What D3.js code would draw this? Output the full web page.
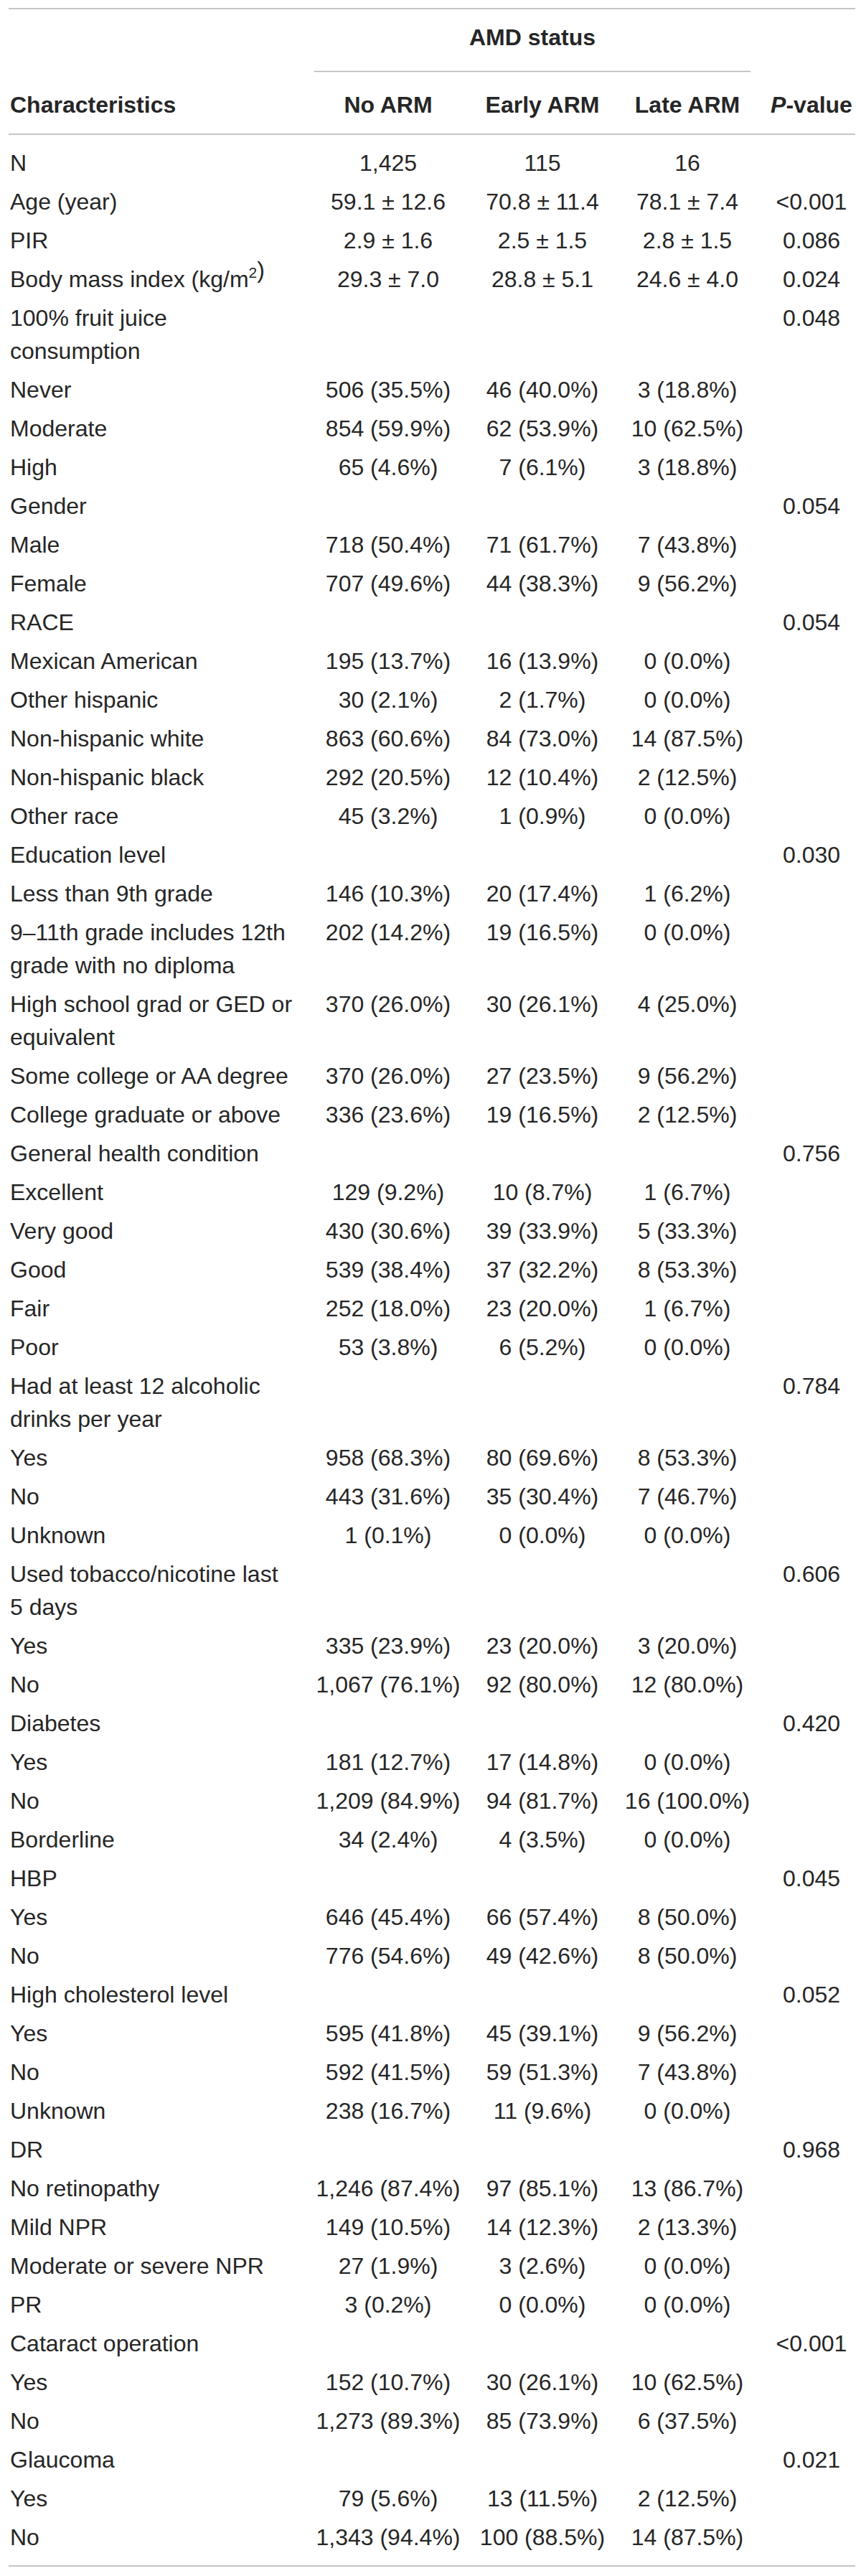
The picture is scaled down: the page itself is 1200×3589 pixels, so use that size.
<!DOCTYPE html>
<html>
<head>
<meta charset="utf-8">
<script src="https://cdn.jsdelivr.net/npm/d3@7/dist/d3.min.js"></script>
<style>
  html, body { margin: 0; padding: 0; background: #ffffff; }
  svg { display: block; }
  text { font-family: "Liberation Sans", Arial, Helvetica, sans-serif; }
</style>
</head>
<body>
<div id="chart"></div>
<script>
// ---------- DATA ----------
const groupTitle = "AMD status";
const headerLabels = ["Characteristics", "No ARM", "Early ARM", "Late ARM", "P-value"];

const labels = [
  "N", "Age (year)", "PIR", "Body mass index (kg/m²)",
  "100% fruit juice\nconsumption", "Never", "Moderate", "High",
  "Gender", "Male", "Female",
  "RACE", "Mexican American", "Other hispanic", "Non-hispanic white", "Non-hispanic black", "Other race",
  "Education level", "Less than 9th grade", "9–11th grade includes 12th\ngrade with no diploma",
  "High school grad or GED or\nequivalent", "Some college or AA degree", "College graduate or above",
  "General health condition", "Excellent", "Very good", "Good", "Fair", "Poor",
  "Had at least 12 alcoholic\ndrinks per year", "Yes", "No", "Unknown",
  "Used tobacco/nicotine last\n5 days", "Yes", "No",
  "Diabetes", "Yes", "No", "Borderline",
  "HBP", "Yes", "No",
  "High cholesterol level", "Yes", "No", "Unknown",
  "DR", "No retinopathy", "Mild NPR", "Moderate or severe NPR", "PR",
  "Cataract operation", "Yes", "No",
  "Glaucoma", "Yes", "No"
];

const noArm = [
  "1,425", "59.1 ± 12.6", "2.9 ± 1.6", "29.3 ± 7.0",
  "", "506 (35.5%)", "854 (59.9%)", "65 (4.6%)",
  "", "718 (50.4%)", "707 (49.6%)",
  "", "195 (13.7%)", "30 (2.1%)", "863 (60.6%)", "292 (20.5%)", "45 (3.2%)",
  "", "146 (10.3%)", "202 (14.2%)", "370 (26.0%)", "370 (26.0%)", "336 (23.6%)",
  "", "129 (9.2%)", "430 (30.6%)", "539 (38.4%)", "252 (18.0%)", "53 (3.8%)",
  "", "958 (68.3%)", "443 (31.6%)", "1 (0.1%)",
  "", "335 (23.9%)", "1,067 (76.1%)",
  "", "181 (12.7%)", "1,209 (84.9%)", "34 (2.4%)",
  "", "646 (45.4%)", "776 (54.6%)",
  "", "595 (41.8%)", "592 (41.5%)", "238 (16.7%)",
  "", "1,246 (87.4%)", "149 (10.5%)", "27 (1.9%)", "3 (0.2%)",
  "", "152 (10.7%)", "1,273 (89.3%)",
  "", "79 (5.6%)", "1,343 (94.4%)"
];

const earlyArm = [
  "115", "70.8 ± 11.4", "2.5 ± 1.5", "28.8 ± 5.1",
  "", "46 (40.0%)", "62 (53.9%)", "7 (6.1%)",
  "", "71 (61.7%)", "44 (38.3%)",
  "", "16 (13.9%)", "2 (1.7%)", "84 (73.0%)", "12 (10.4%)", "1 (0.9%)",
  "", "20 (17.4%)", "19 (16.5%)", "30 (26.1%)", "27 (23.5%)", "19 (16.5%)",
  "", "10 (8.7%)", "39 (33.9%)", "37 (32.2%)", "23 (20.0%)", "6 (5.2%)",
  "", "80 (69.6%)", "35 (30.4%)", "0 (0.0%)",
  "", "23 (20.0%)", "92 (80.0%)",
  "", "17 (14.8%)", "94 (81.7%)", "4 (3.5%)",
  "", "66 (57.4%)", "49 (42.6%)",
  "", "45 (39.1%)", "59 (51.3%)", "11 (9.6%)",
  "", "97 (85.1%)", "14 (12.3%)", "3 (2.6%)", "0 (0.0%)",
  "", "30 (26.1%)", "85 (73.9%)",
  "", "13 (11.5%)", "100 (88.5%)"
];

const lateArm = [
  "16", "78.1 ± 7.4", "2.8 ± 1.5", "24.6 ± 4.0",
  "", "3 (18.8%)", "10 (62.5%)", "3 (18.8%)",
  "", "7 (43.8%)", "9 (56.2%)",
  "", "0 (0.0%)", "0 (0.0%)", "14 (87.5%)", "2 (12.5%)", "0 (0.0%)",
  "", "1 (6.2%)", "0 (0.0%)", "4 (25.0%)", "9 (56.2%)", "2 (12.5%)",
  "", "1 (6.7%)", "5 (33.3%)", "8 (53.3%)", "1 (6.7%)", "0 (0.0%)",
  "", "8 (53.3%)", "7 (46.7%)", "0 (0.0%)",
  "", "3 (20.0%)", "12 (80.0%)",
  "", "0 (0.0%)", "16 (100.0%)", "0 (0.0%)",
  "", "8 (50.0%)", "8 (50.0%)",
  "", "9 (56.2%)", "7 (43.8%)", "0 (0.0%)",
  "", "13 (86.7%)", "2 (13.3%)", "0 (0.0%)", "0 (0.0%)",
  "", "10 (62.5%)", "6 (37.5%)",
  "", "2 (12.5%)", "14 (87.5%)"
];

const pValues = [
  "", "<0.001", "0.086", "0.024",
  "0.048", "", "", "",
  "0.054", "", "",
  "0.054", "", "", "", "", "",
  "0.030", "", "", "", "", "",
  "0.756", "", "", "", "", "",
  "0.784", "", "", "",
  "0.606", "", "",
  "0.420", "", "", "",
  "0.045", "", "",
  "0.052", "", "", "",
  "0.968", "", "", "", "",
  "<0.001", "", "",
  "0.021", "", ""
];

// ---------- LAYOUT ----------
const W = 1200, H = 3589;
const FONT = 32;
const ROW = 54;      // pitch of a single-line row
const LINE = 46;     // extra height of each wrapped line
const TEXT = "#262626";
const RULE = "#b3b3b3";

const svg = d3.select("#chart").append("svg")
  .attr("width", W).attr("height", H)
  .attr("viewBox", `0 0 ${W} ${H}`);

// column scale (ordinal -> center x)
const colKeys = ["label", "no", "early", "late", "p"];
const x = d3.scaleOrdinal().domain(colKeys).range([14, 541, 756, 958, 1131]);

// row layout: cumulative offset of each row
const lineCounts = labels.map(l => l.split("\n").length);
const heights = lineCounts.map(n => ROW + (n - 1) * LINE);
const offsets = [0, ...d3.cumsum(heights)].slice(0, labels.length);
const totalH = d3.sum(heights);
const y = d3.scaleLinear().domain([0, totalH]).range([238, 238 + totalH]);

const rows = labels.map((l, i) => ({
  label: l, no: noArm[i], early: earlyArm[i], late: lateArm[i], p: pValues[i], off: offsets[i]
}));

// rules
const rules = [
  { x1: 12, x2: 1192, y: 12 },
  { x1: 438, x2: 1046, y: 99.5 },
  { x1: 12, x2: 1192, y: 187 },
  { x1: 12, x2: 1192, y: 3575 }
];
svg.selectAll("line.rule").data(rules).join("line")
  .attr("class", "rule")
  .attr("x1", d => d.x1).attr("x2", d => d.x2)
  .attr("y1", d => d.y).attr("y2", d => d.y)
  .attr("stroke", RULE).attr("stroke-width", 1.6);

// group title
svg.append("text")
  .attr("x", 742).attr("y", 63)
  .attr("text-anchor", "middle")
  .attr("font-size", FONT).attr("font-weight", "bold").attr("fill", TEXT)
  .text(groupTitle);

// column headers
const hdr = svg.selectAll("text.hdr").data(colKeys).join("text")
  .attr("class", "hdr")
  .attr("x", d => x(d)).attr("y", 157)
  .attr("text-anchor", d => d === "label" ? "start" : "middle")
  .attr("font-size", FONT).attr("font-weight", "bold").attr("fill", TEXT);
hdr.each(function(d, i) {
  const t = d3.select(this);
  const s = headerLabels[i];
  if (d === "p") {
    t.append("tspan").attr("font-style", "italic").text("P");
    t.append("tspan").text(s.slice(1));
  } else {
    t.text(s);
  }
});

// body rows
const g = svg.selectAll("g.row").data(rows).join("g")
  .attr("class", "row")
  .attr("transform", d => `translate(0,${y(d.off)})`);

g.append("text")
  .attr("x", x("label")).attr("y", 0)
  .attr("font-size", FONT).attr("fill", TEXT)
  .each(function(d) {
    const t = d3.select(this);
    d.label.split("\n").forEach((ln, k) => {
      const parts = ln.split("²");
      parts.forEach((p, j) => {
        const ts = t.append("tspan").text(p);
        if (j === 0) ts.attr("x", x("label")).attr("y", k * LINE);
        if (j < parts.length - 1) {
          t.append("tspan").attr("font-size", 21).attr("dy", -13).text("2");
          // restore baseline for the remainder
          parts[j + 1] !== undefined && t.append("tspan").attr("dy", 13).text("");
        }
      });
    });
  });

["no", "early", "late", "p"].forEach(k => {
  g.filter(d => d[k] !== "").append("text")
    .attr("x", x(k)).attr("y", 0)
    .attr("text-anchor", "middle")
    .attr("font-size", FONT).attr("fill", TEXT)
    .text(d => d[k]);
});
</script>
</body>
</html>
